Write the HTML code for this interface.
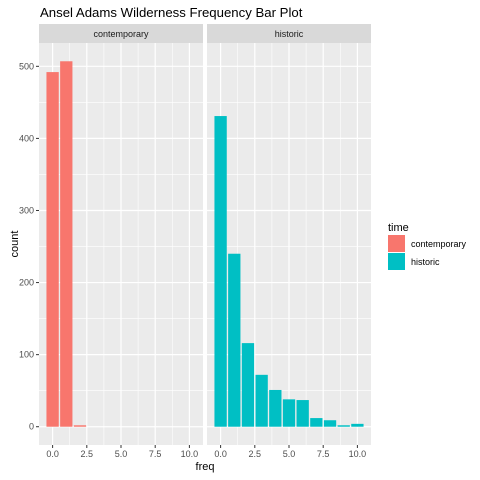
<!DOCTYPE html>
<html><head><meta charset="utf-8"><style>
body{margin:0;background:#fff;}
svg{display:block;font-family:"Liberation Sans",sans-serif;}
</style></head><body>
<svg id="chart" width="480" height="480">
<text x="40" y="17" font-size="13.2" fill="#000">Ansel Adams Wilderness Frequency Bar Plot</text>
<text x="18" y="244" font-size="11" fill="#000" text-anchor="middle" transform="rotate(-90 18 244)">count</text>
<text x="205" y="470" font-size="11" fill="#000" text-anchor="middle">freq</text>
<g>
<text x="388" y="231" font-size="11" fill="#000">time</text>
<rect x="388" y="235" width="17" height="17" fill="#F8766D"/>
<text x="411" y="247" font-size="9" fill="#000">contemporary</text>
<rect x="388" y="253" width="17" height="17" fill="#00BFC4"/>
<text x="411" y="265" font-size="9" fill="#000">historic</text>
</g>
</svg>
<script>
const panels = ["contemporary", "historic"];
const colors = ["#F8766D", "#00BFC4"];
const freqs = [0,1,2,3,4,5,6,7,8,9,10];
const contemporaryCounts = [492,507,2,0,0,0,0,0,0,0,0];
const historicCounts = [431,240,116,72,51,38,37,12,9,2,4];
const xTicks = [0,2.5,5,7.5,10];
const xTickLabels = ["0.0","2.5","5.0","7.5","10.0"];
const yTicks = [0,100,200,300,400,500];
const series = [contemporaryCounts, historicCounts];

const svg = document.getElementById('chart');
const NS = 'http://www.w3.org/2000/svg';
const panelX = [39, 207], panelW = 164, pTop = 43, pBot = 445;
const xMin = -0.995, xMax = 10.995, yMin = -25.35, yMax = 532.35;
const yS = v => pBot - (v - yMin) / (yMax - yMin) * (pBot - pTop);
function mk(tag, a){const e=document.createElementNS(NS,tag);for(const k in a)e.setAttribute(k,a[k]);svg.appendChild(e);return e;}

panels.forEach((p, i) => {
  const x0 = panelX[i];
  const xS = v => x0 + (v - xMin) / (xMax - xMin) * panelW;
  const bg = mk('rect',{x:x0,y:pTop,width:panelW,height:pBot-pTop,fill:'#EBEBEB'});
  
  
  const strip = mk('rect',{x:x0,y:24,width:panelW,height:19,fill:'#D9D9D9'});
  
  
  const st = mk('text',{x:x0+panelW/2,y:37,'font-size':9,'text-anchor':'middle',fill:'#1A1A1A'});
  st.textContent = p;
  
  
  for (let k = 0; k < yTicks.length; k++) {
    const mv = yTicks[k] + 50;
    if (yS(mv) > pTop) { const g = mk('line',{x1:x0,x2:x0+panelW,y1:yS(mv),y2:yS(mv),stroke:'#fff','stroke-width':0.6});
        }
  }
  for (let k = 0; k < xTicks.length - 1; k++) {
    const mv = xTicks[k] + 1.25;
    const g = mk('line',{x1:xS(mv),x2:xS(mv),y1:pTop,y2:pBot,stroke:'#fff','stroke-width':0.6});
     
  }
  yTicks.forEach(t => {
    const g = mk('line',{x1:x0,x2:x0+panelW,y1:yS(t),y2:yS(t),stroke:'#fff','stroke-width':1.2});
     
    if (i === 0) {
      const tk = mk('line',{x1:x0-3,x2:x0,y1:yS(t),y2:yS(t),stroke:'#333'});
       
      const tl = mk('text',{x:x0-5,y:yS(t)+3,'font-size':9,'text-anchor':'end',fill:'#4D4D4D'});
      tl.textContent = t;
       
    }
  });
  xTicks.forEach((t, k) => {
    const g = mk('line',{x1:xS(t),x2:xS(t),y1:pTop,y2:pBot,stroke:'#fff','stroke-width':1.2});
     
    const tk = mk('line',{x1:xS(t),x2:xS(t),y1:pBot,y2:pBot+3,stroke:'#333'});
     
    const tl = mk('text',{x:xS(t),y:pBot+12,'font-size':9,'text-anchor':'middle',fill:'#4D4D4D'});
    tl.textContent = xTickLabels[k];
     
  });
  freqs.forEach((f, k) => {
    const v = series[i][k];
    if (!v) return;
    const b = mk('rect',{x:xS(f-0.45),y:yS(v),width:xS(f+0.45)-xS(f-0.45),height:yS(0)-yS(v),fill:colors[i]});
    
    
  });
});
</script>
</body></html>
